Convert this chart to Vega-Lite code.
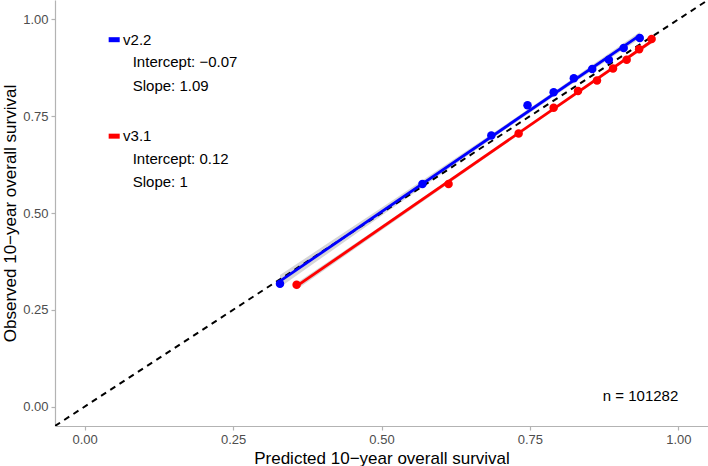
{
  "$schema": "https://vega.github.io/schema/vega-lite/v6.json",
  "width": 653,
  "height": 426,
  "padding": {"left": 55, "top": 0, "right": 0, "bottom": 40},
  "autosize": {"type": "none"},
  "background": "white",
  "data": {"values": [{}]},
  "datasets": {
    "calib": [
      {"model": "v2.2", "pred": 0.329, "obs": 0.317},
      {"model": "v2.2", "pred": 0.569, "obs": 0.575},
      {"model": "v2.2", "pred": 0.685, "obs": 0.700},
      {"model": "v2.2", "pred": 0.746, "obs": 0.778},
      {"model": "v2.2", "pred": 0.790, "obs": 0.812},
      {"model": "v2.2", "pred": 0.824, "obs": 0.848},
      {"model": "v2.2", "pred": 0.855, "obs": 0.872},
      {"model": "v2.2", "pred": 0.883, "obs": 0.896},
      {"model": "v2.2", "pred": 0.908, "obs": 0.926},
      {"model": "v2.2", "pred": 0.935, "obs": 0.952},
      {"model": "v3.1", "pred": 0.357, "obs": 0.315},
      {"model": "v3.1", "pred": 0.613, "obs": 0.575},
      {"model": "v3.1", "pred": 0.731, "obs": 0.705},
      {"model": "v3.1", "pred": 0.790, "obs": 0.772},
      {"model": "v3.1", "pred": 0.831, "obs": 0.815},
      {"model": "v3.1", "pred": 0.863, "obs": 0.842},
      {"model": "v3.1", "pred": 0.890, "obs": 0.873},
      {"model": "v3.1", "pred": 0.913, "obs": 0.896},
      {"model": "v3.1", "pred": 0.934, "obs": 0.923},
      {"model": "v3.1", "pred": 0.955, "obs": 0.949}
    ],
    "ci": [
      {"model": "v2.2", "pred": 0.329, "lo": 0.3083, "hi": 0.3399},
      {"model": "v2.2", "pred": 0.40, "lo": 0.3849, "hi": 0.4120},
      {"model": "v2.2", "pred": 0.50, "lo": 0.4926, "hi": 0.5138},
      {"model": "v2.2", "pred": 0.60, "lo": 0.5999, "hi": 0.6160},
      {"model": "v2.2", "pred": 0.70, "lo": 0.7064, "hi": 0.7190},
      {"model": "v2.2", "pred": 0.7524, "lo": 0.7615, "hi": 0.7736},
      {"model": "v2.2", "pred": 0.80, "lo": 0.8111, "hi": 0.8237},
      {"model": "v2.2", "pred": 0.85, "lo": 0.8629, "hi": 0.8767},
      {"model": "v2.2", "pred": 0.90, "lo": 0.9143, "hi": 0.9301},
      {"model": "v2.2", "pred": 0.935, "lo": 0.9501, "hi": 0.9676},
      {"model": "v3.1", "pred": 0.357, "lo": 0.3027, "hi": 0.3193},
      {"model": "v3.1", "pred": 0.50, "lo": 0.4555, "hi": 0.4671},
      {"model": "v3.1", "pred": 0.65, "lo": 0.6155, "hi": 0.6237},
      {"model": "v3.1", "pred": 0.7877, "lo": 0.7626, "hi": 0.7686},
      {"model": "v3.1", "pred": 0.90, "lo": 0.8812, "hi": 0.8882},
      {"model": "v3.1", "pred": 0.955, "lo": 0.9380, "hi": 0.9488}
    ]
  },
  "encoding": {
    "x": {
      "type": "quantitative",
      "scale": {"domain": [-0.05, 1.05], "nice": false, "zero": false},
      "axis": {"title": "Predicted 10\u2212year overall survival", "values": [0, 0.25, 0.5, 0.75, 1], "format": ".2f", "titlePadding": 4}
    },
    "y": {
      "type": "quantitative",
      "scale": {"domain": [-0.05, 1.05], "nice": false, "zero": false},
      "axis": {"title": "Observed 10\u2212year overall survival", "values": [0, 0.25, 0.5, 0.75, 1], "format": ".2f", "titlePadding": 3}
    }
  },
  "layer": [
    {
      "data": {"name": "ci"},
      "mark": {"type": "area", "fill": "#999999", "opacity": 0.4},
      "encoding": {
        "x": {"field": "pred", "type": "quantitative"},
        "y": {"field": "lo", "type": "quantitative"},
        "y2": {"field": "hi"},
        "detail": {"field": "model"}
      }
    },
    {
      "mark": {"type": "rule", "color": "black", "strokeWidth": 2, "strokeDash": [6, 5], "clip": true},
      "encoding": {
        "x": {"datum": -0.05, "type": "quantitative"},
        "y": {"datum": -0.05, "type": "quantitative"},
        "x2": {"datum": 1.05},
        "y2": {"datum": 1.05}
      }
    },
    {
      "data": {"name": "calib"},
      "transform": [{"regression": "obs", "on": "pred", "groupby": ["model"]}],
      "mark": {"type": "line", "strokeWidth": 2.8},
      "encoding": {
        "x": {"field": "pred", "type": "quantitative"},
        "y": {"field": "obs", "type": "quantitative"},
        "color": {"field": "model", "type": "nominal", "scale": {"domain": ["v2.2", "v3.1"], "range": ["#0000FF", "#FF0000"]}, "legend": null}
      }
    },
    {
      "data": {"name": "calib"},
      "mark": {"type": "circle", "size": 72, "opacity": 1},
      "encoding": {
        "x": {"field": "pred", "type": "quantitative"},
        "y": {"field": "obs", "type": "quantitative"},
        "color": {"field": "model", "type": "nominal", "legend": null}
      }
    },
    {
      "mark": {"type": "rule", "color": "#0000FF", "strokeWidth": 5},
      "encoding": {
        "x": {"datum": 0.0404, "type": "quantitative"},
        "x2": {"datum": 0.059},
        "y": {"datum": 0.9475, "type": "quantitative"}
      }
    },
    {
      "mark": {"type": "rule", "color": "#FF0000", "strokeWidth": 5},
      "encoding": {
        "x": {"datum": 0.0404, "type": "quantitative"},
        "x2": {"datum": 0.059},
        "y": {"datum": 0.6984, "type": "quantitative"}
      }
    },
    {
      "mark": {"type": "text", "text": "v2.2", "align": "left", "baseline": "middle", "fontSize": 15, "color": "black"},
      "encoding": {"x": {"datum": 0.0647, "type": "quantitative"}, "y": {"datum": 0.9475, "type": "quantitative"}}
    },
    {
      "mark": {"type": "text", "text": "Intercept: \u22120.07", "align": "left", "baseline": "middle", "fontSize": 15, "color": "black"},
      "encoding": {"x": {"datum": 0.0809, "type": "quantitative"}, "y": {"datum": 0.8889, "type": "quantitative"}}
    },
    {
      "mark": {"type": "text", "text": "Slope: 1.09", "align": "left", "baseline": "middle", "fontSize": 15, "color": "black"},
      "encoding": {"x": {"datum": 0.0809, "type": "quantitative"}, "y": {"datum": 0.8287, "type": "quantitative"}}
    },
    {
      "mark": {"type": "text", "text": "v3.1", "align": "left", "baseline": "middle", "fontSize": 15, "color": "black"},
      "encoding": {"x": {"datum": 0.0647, "type": "quantitative"}, "y": {"datum": 0.6984, "type": "quantitative"}}
    },
    {
      "mark": {"type": "text", "text": "Intercept: 0.12", "align": "left", "baseline": "middle", "fontSize": 15, "color": "black"},
      "encoding": {"x": {"datum": 0.0809, "type": "quantitative"}, "y": {"datum": 0.6382, "type": "quantitative"}}
    },
    {
      "mark": {"type": "text", "text": "Slope: 1", "align": "left", "baseline": "middle", "fontSize": 15, "color": "black"},
      "encoding": {"x": {"datum": 0.0809, "type": "quantitative"}, "y": {"datum": 0.5788, "type": "quantitative"}}
    },
    {
      "mark": {"type": "text", "text": "n = 101282", "align": "right", "baseline": "middle", "fontSize": 15, "color": "black"},
      "encoding": {"x": {"datum": 1.0, "type": "quantitative"}, "y": {"datum": 0.028, "type": "quantitative"}}
    }
  ],
  "config": {
    "view": {"stroke": null},
    "font": "Liberation Sans",
    "axis": {
      "grid": false,
      "domainColor": "#b3b3b3",
      "domainWidth": 1.2,
      "tickColor": "#b3b3b3",
      "tickWidth": 1.2,
      "tickSize": 4,
      "labelColor": "#4d4d4d",
      "labelFontSize": 13,
      "labelPadding": 3,
      "titleFontSize": 17,
      "titleColor": "black",
      "titleFontWeight": "normal"
    }
  }
}
